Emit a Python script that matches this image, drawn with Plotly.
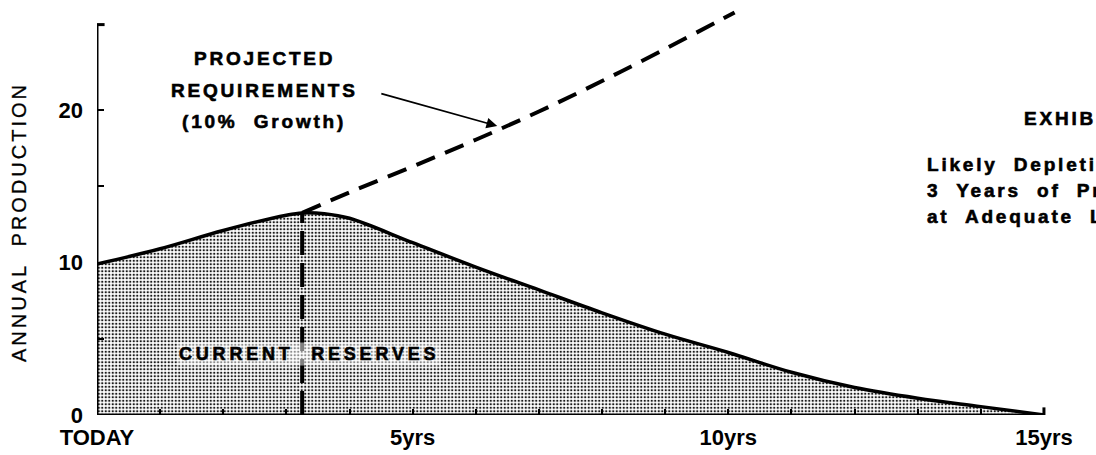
import plotly.graph_objects as go

# ---- data ----
reserve_years = [0, 1, 2, 3, 3.25, 3.6, 4, 5, 6, 7, 8, 9, 10, 11, 12, 13, 14, 15]
reserve_prod = [9.9, 10.9, 12.1, 13.1, 13.25, 13.2, 12.9, 11.3, 9.7, 8.2, 6.7, 5.3, 4.1, 2.8, 1.8, 1.1, 0.55, 0.0]

proj_years = [3.25, 4, 5, 6, 7, 8, 9, 10.1]
proj_req = [13.25, 14.6, 16.3, 18.05, 19.9, 21.9, 24.0, 26.4]

peak_year = 3.25
peak_value = 13.25

x_tick_vals = list(range(0, 16))
x_tick_text = ["TODAY", "", "", "", "", "5yrs", "", "", "", "", "10yrs", "", "", "", "", "15yrs"]
y_tick_vals = [0, 5, 10, 15, 20]
y_tick_text = ["0", "", "10", "", "20"]

FONT = "Liberation Sans, Arial, Helvetica, sans-serif"

# plot-area geometry in pixels (for paper-referenced text)
L, R, T, B = 97, 2, 0, 40
PW, PH = 1096 - L - R, 455 - T - B


def px2paper(px, py):
    return (px - L) / PW, (455 - B - py) / PH


def spaced(text, sp, stroke=0.6):
    return (f'<span style="letter-spacing:{sp}px;stroke:black;'
            f'stroke-width:{stroke}px">{text}</span>')


fig = go.Figure()

fig.add_trace(go.Scatter(
    x=reserve_years, y=reserve_prod, mode="lines",
    line=dict(color="black", width=3.5, shape="spline", smoothing=1.0),
    fill="tozeroy",
    fillcolor="rgba(0,0,0,0)",
    fillpattern=dict(shape=".", fgcolor="#1a1a1a", bgcolor="#ffffff",
                     size=3.5, solidity=0.36, fillmode="replace"),
    hoverinfo="skip", showlegend=False,
))

fig.add_trace(go.Scatter(
    x=proj_years, y=proj_req, mode="lines",
    line=dict(color="black", width=4, dash="20px,11px", shape="spline", smoothing=1.0),
    hoverinfo="skip", showlegend=False,
))

fig.add_trace(go.Scatter(
    x=[peak_year, peak_year], y=[0, peak_value], mode="lines",
    line=dict(color="black", width=4, dash="24px,8px"),
    hoverinfo="skip", showlegend=False,
))

# axis lines
fig.add_shape(type="line", xref="x", yref="y", x0=0, x1=0, y0=0, y1=25.6,
              line=dict(color="black", width=3))
fig.add_shape(type="line", xref="x", yref="y", x0=0, x1=0.12, y0=25.6, y1=25.6,
              line=dict(color="black", width=3))
fig.add_shape(type="line", xref="x", yref="y", x0=0, x1=15, y0=0, y1=0,
              line=dict(color="black", width=3))
fig.add_shape(type="line", xref="x", yref="y", x0=15, x1=15, y0=0, y1=0.5,
              line=dict(color="black", width=3))

ann = []

label_font = dict(size=19, family=FONT, color="black", weight="bold")
for txt, py in [("PROJECTED", 59), ("REQUIREMENTS", 90), ("(10%  Growth)", 122)]:
    px_, py_ = px2paper(264, py)
    ann.append(dict(x=px_, y=py_, xref="paper", yref="paper", text=spaced(txt, 2.8),
                    showarrow=False, font=label_font,
                    xanchor="center", yanchor="middle"))

ann.append(dict(x=6.34, y=18.95, ax=4.48, ay=21.1, xref="x", yref="y",
                axref="x", ayref="y", text="", showarrow=True,
                arrowhead=2, arrowsize=1.2, arrowwidth=1.8, arrowcolor="black"))

cx, cy = px2paper(309, 354)
ann.append(dict(x=cx, y=cy, xref="paper", yref="paper",
                text=spaced("CURRENT  RESERVES", 3.8),
                showarrow=False, font=dict(size=18, family=FONT, color="black", weight="bold"),
                xanchor="center", yanchor="middle", bgcolor="rgba(255,255,255,0.5)"))

side = [("EXHIBIT", 1022, 118), ("Likely  Depletion", 925, 164),
        ("3  Years  of  Production", 925, 190), ("at  Adequate  Levels", 925, 216)]
for txt, px, py in side:
    sx, sy = px2paper(px, py)
    ann.append(dict(x=sx, y=sy, xref="paper", yref="paper", text=spaced(txt, 2.8),
                    showarrow=False, xanchor="left", yanchor="middle",
                    font=dict(size=19, family=FONT, color="black", weight="bold")))

tx, ty = px2paper(19, 222)
ann.append(dict(x=tx, y=ty, xref="paper", yref="paper",
                text=spaced("ANNUAL  PRODUCTION", 3, 0.3), textangle=-90, showarrow=False,
                xanchor="center", yanchor="middle",
                font=dict(size=20, family=FONT, color="black")))

fig.update_layout(
    width=1096, height=455,
    margin=dict(l=L, r=R, t=T, b=B),
    paper_bgcolor="white", plot_bgcolor="white",
    annotations=ann,
    xaxis=dict(range=[0, PW / 63.13], showgrid=False, zeroline=False, showline=False,
               tickvals=x_tick_vals, ticktext=x_tick_text, ticks="inside",
               ticklen=6, tickwidth=2, tickcolor="black", automargin=False,
               ticklabelstandoff=7,
               tickfont=dict(size=22, family=FONT, color="black", weight="bold"),
               fixedrange=True),
    yaxis=dict(range=[0, PH / 15.25], showgrid=False, zeroline=False, showline=False,
               tickvals=y_tick_vals, ticktext=y_tick_text, ticks="inside",
               ticklen=7, tickwidth=2, tickcolor="black", automargin=False,
               ticklabelstandoff=13,
               tickfont=dict(size=22, family=FONT, color="black", weight="bold"),
               fixedrange=True),
    font=dict(family=FONT, color="black"),
)

fig.write_html("out.html", config={"displayModeBar": False},
               post_script="document.body.style.margin='0';")
